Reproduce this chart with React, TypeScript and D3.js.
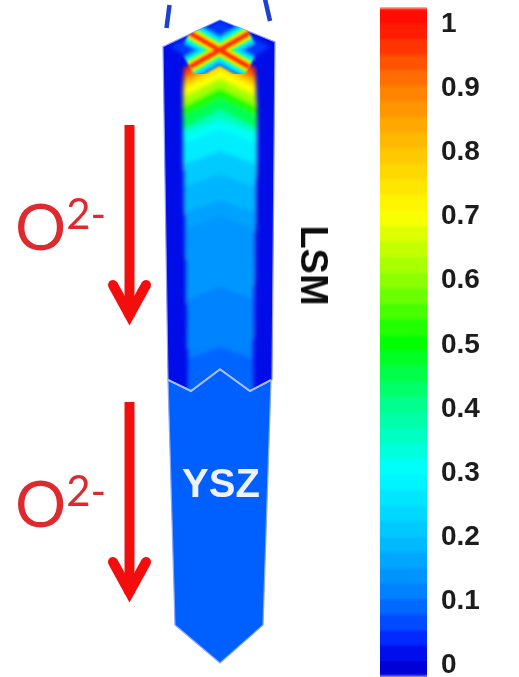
import React from "react";
import * as d3 from "d3";

// colour bar
const tickValues = [1, 0.9, 0.8, 0.7, 0.6, 0.5, 0.4, 0.3, 0.2, 0.1, 0];
const colourStops = [0, 0.03, 0.1, 0.2, 0.3, 0.4, 0.5, 0.6, 0.7, 0.8, 0.9, 1];
const colourValues = ["#0000d8", "#0020ff", "#0078ff", "#00c4ff", "#00ffff", "#00ff90", "#00ff00", "#90ff00", "#ffff00", "#ffc400", "#ff7c00", "#ff0800"];

// concentration down the middle of the LSM column (depth 0 = top, 100 = interface)
const fieldDepths = [0, 2.5, 4.3, 6, 8.6, 11.6, 14.7, 18.4, 21.5, 24.5, 31, 38, 46, 51, 72.7, 91];
const fieldValues = [0.96, 0.88, 0.78, 0.7, 0.62, 0.52, 0.44, 0.36, 0.31, 0.27, 0.21, 0.18, 0.155, 0.14, 0.115, 0.085];

// nested contours round the hot X on the top face
const crossValues = [0.1, 0.18, 0.28, 0.42, 0.58, 0.75, 0.96];
const crossSpreads = [27, 23, 19, 15, 12, 9, 5.5];

const lsmValue = 0.012;
const yszValue = 0.082;
const roofValue = 0.05;

// column outline, across = offset from the axis, depth as above
const lsmAcross = [0, 55, 52, 30, 0, -29, -52, -57];
const lsmDepth = [-9.2, -2.5, 101.2, 104.6, 97.9, 104.6, 101.2, -1];
const roofAcross = [0, 50, 0, -50];
const roofDepth = [-9.2, -1, 8, -1];
const faceAcross = [-36, 0, 35, 37, 32, 0, -31, -37];
const faceDepth = [3, -1.5, 3, 24, 106, 97.9, 106, 24];
const yszAcross = [-52, -29, 0, 30, 51, 43, 0, -45];
const yszDepth = [101.2, 104.6, 97.9, 104.6, 101.2, 176.4, 188, 176.4];
const interfaceAcross = [-52, -29, 0, 30, 51];
const interfaceDepth = [101.2, 104.6, 97.9, 104.6, 101.2];

const W = 519;
const H = 677;

const colour = d3.scaleLinear<string>().domain(colourStops).range(colourValues).clamp(true);
const barY = d3.scaleLinear().domain([0, 1]).range([663, 22]);
const across = d3.scaleLinear().domain([-50, 50]).range([170, 270]);
const depth = d3.scaleLinear().domain([0, 100]).range([50, 376]);

const poly = (a: number[], d: number[]) =>
  a.map((v, i) => `${across(v)},${depth(d[i])}`).join(" ");

const binCount = 43;
const binStep = 668 / binCount;

function Arrow({ top, tip }: { top: number; tip: number }) {
  return (
    <g>
      <line x1={129.5} x2={129.5} y1={top} y2={tip - 6} stroke="#f40f0f" strokeWidth={10} />
      <path
        d={d3.line()([[113, tip - 38], [129.5, tip - 8], [146, tip - 38]]) ?? ""}
        fill="none"
        stroke="#f40f0f"
        strokeWidth={10}
        strokeLinecap="round"
        strokeLinejoin="miter"
      />
    </g>
  );
}

function Ion({ y }: { y: number }) {
  return (
    <text x={15} y={y} fill="#dc2a2e" fontFamily="Lato, 'Open Sans', sans-serif" fontSize={64}>
      O
      <tspan fontSize={42} dy={-21}>2-</tspan>
    </text>
  );
}

export default function App() {
  const chevronDrop = 5;
  return (
    <svg
      width={W}
      height={H}
      viewBox={`0 0 ${W} ${H}`}
      style={{ position: "absolute", left: 0, top: 0, background: "#fff" }}
    >
      <defs>
        <filter id="soft" x="-20%" y="-20%" width="140%" height="140%">
          <feGaussianBlur stdDeviation={2} />
        </filter>
        <filter id="softCross" x="-20%" y="-20%" width="140%" height="140%">
          <feGaussianBlur stdDeviation={1.3} />
        </filter>
        <filter id="print" x="-5%" y="-5%" width="110%" height="110%">
          <feGaussianBlur stdDeviation={0.6} />
        </filter>
        <filter id="barSoft" x="-5%" y="-2%" width="110%" height="104%">
          <feGaussianBlur stdDeviation="0.6 1.6" />
        </filter>
        <clipPath id="lsmClip">
          <polygon points={poly(lsmAcross, lsmDepth)} />
        </clipPath>
        <clipPath id="faceClip">
          <polygon points={poly(faceAcross, faceDepth)} />
        </clipPath>
        <clipPath id="barClip">
          <rect x={379} y={7} width={49} height={670} />
        </clipPath>
      </defs>

      {/* YSZ part */}
      <polygon
        points={poly(yszAcross, yszDepth)}
        fill={colour(yszValue)}
        stroke="#86a8ff"
        strokeWidth={1.2}
        filter="url(#print)"
      />

      {/* LSM part */}
      <polygon
        points={poly(lsmAcross, lsmDepth)}
        fill={colour(lsmValue)}
        stroke="#8d9cff"
        strokeWidth={1.2}
        filter="url(#print)"
      />
      <g clipPath="url(#lsmClip)">
        <polygon points={poly(roofAcross, roofDepth)} fill={colour(roofValue)} filter="url(#soft)" />
        <g filter="url(#soft)">
          <g clipPath="url(#faceClip)">
            {fieldDepths.map((d, i) => (
              <polygon
                key={d}
                fill={colour(fieldValues[i])}
                points={poly(
                  [-45, 0, 45, 45, -45],
                  [d + chevronDrop + (i < 8 ? 2 : 0), d, d + chevronDrop + (i < 8 ? 2 : 0), 110, 110]
                )}
              />
            ))}
          </g>
        </g>
        <g filter="url(#softCross)">
          {crossValues.map((v, i) => (
            <g key={v} stroke={colour(v)} strokeWidth={crossSpreads[i]} fill="none">
              <line x1={across(-30)} y1={depth(-5.2)} x2={across(29)} y2={depth(5.2)} />
              <line x1={across(29)} y1={depth(-5.2)} x2={across(-30)} y2={depth(5.2)} />
            </g>
          ))}
        </g>
      </g>
      <polyline
        points={poly(interfaceAcross, interfaceDepth)}
        fill="none"
        stroke="#a9c0ff"
        strokeWidth={2}
      />

      {/* cut marks above the column */}
      <g stroke="#1c3fd0" strokeWidth={4.5} filter="url(#print)">
        <line x1={169.5} y1={5} x2={166.5} y2={28} />
        <line x1={265} y1={-1} x2={270} y2={21} />
      </g>

      <g filter="url(#print)">
        <text
          x={221}
          y={497}
          textAnchor="middle"
          fill="#eef2ff"
          fontFamily="'Liberation Sans', Arial, sans-serif"
          fontWeight={700}
          fontSize={40}
        >
          YSZ
        </text>
        <text
          transform="translate(301,265.5) rotate(90)"
          textAnchor="middle"
          fill="#111"
          fontFamily="'Liberation Sans', Arial, sans-serif"
          fontWeight={700}
          fontSize={38}
        >
          LSM
        </text>
        <Arrow top={125} tip={323} />
        <Arrow top={402} tip={600} />
        <Ion y={250} />
        <Ion y={527} />
      </g>

      {/* colour bar */}
      <g clipPath="url(#barClip)">
        <g filter="url(#barSoft)">
          {d3.range(binCount).map((i) => (
            <rect
              key={i}
              x={380}
              width={47}
              y={8 + (binCount - 1 - i) * binStep}
              height={binStep + 0.5}
              fill={colour((i + 0.5) / binCount * 1.042 - 0.021)}
            />
          ))}
        </g>
      </g>
      <g filter="url(#print)">
        {tickValues.map((t) => (
          <text
            key={t}
            x={441}
            y={barY(t)}
            dy="0.36em"
            fill="#1a1a1a"
            fontFamily="'Liberation Sans', Arial, sans-serif"
            fontWeight={700}
            fontSize={28}
          >
            {t}
          </text>
        ))}
      </g>
    </svg>
  );
}
